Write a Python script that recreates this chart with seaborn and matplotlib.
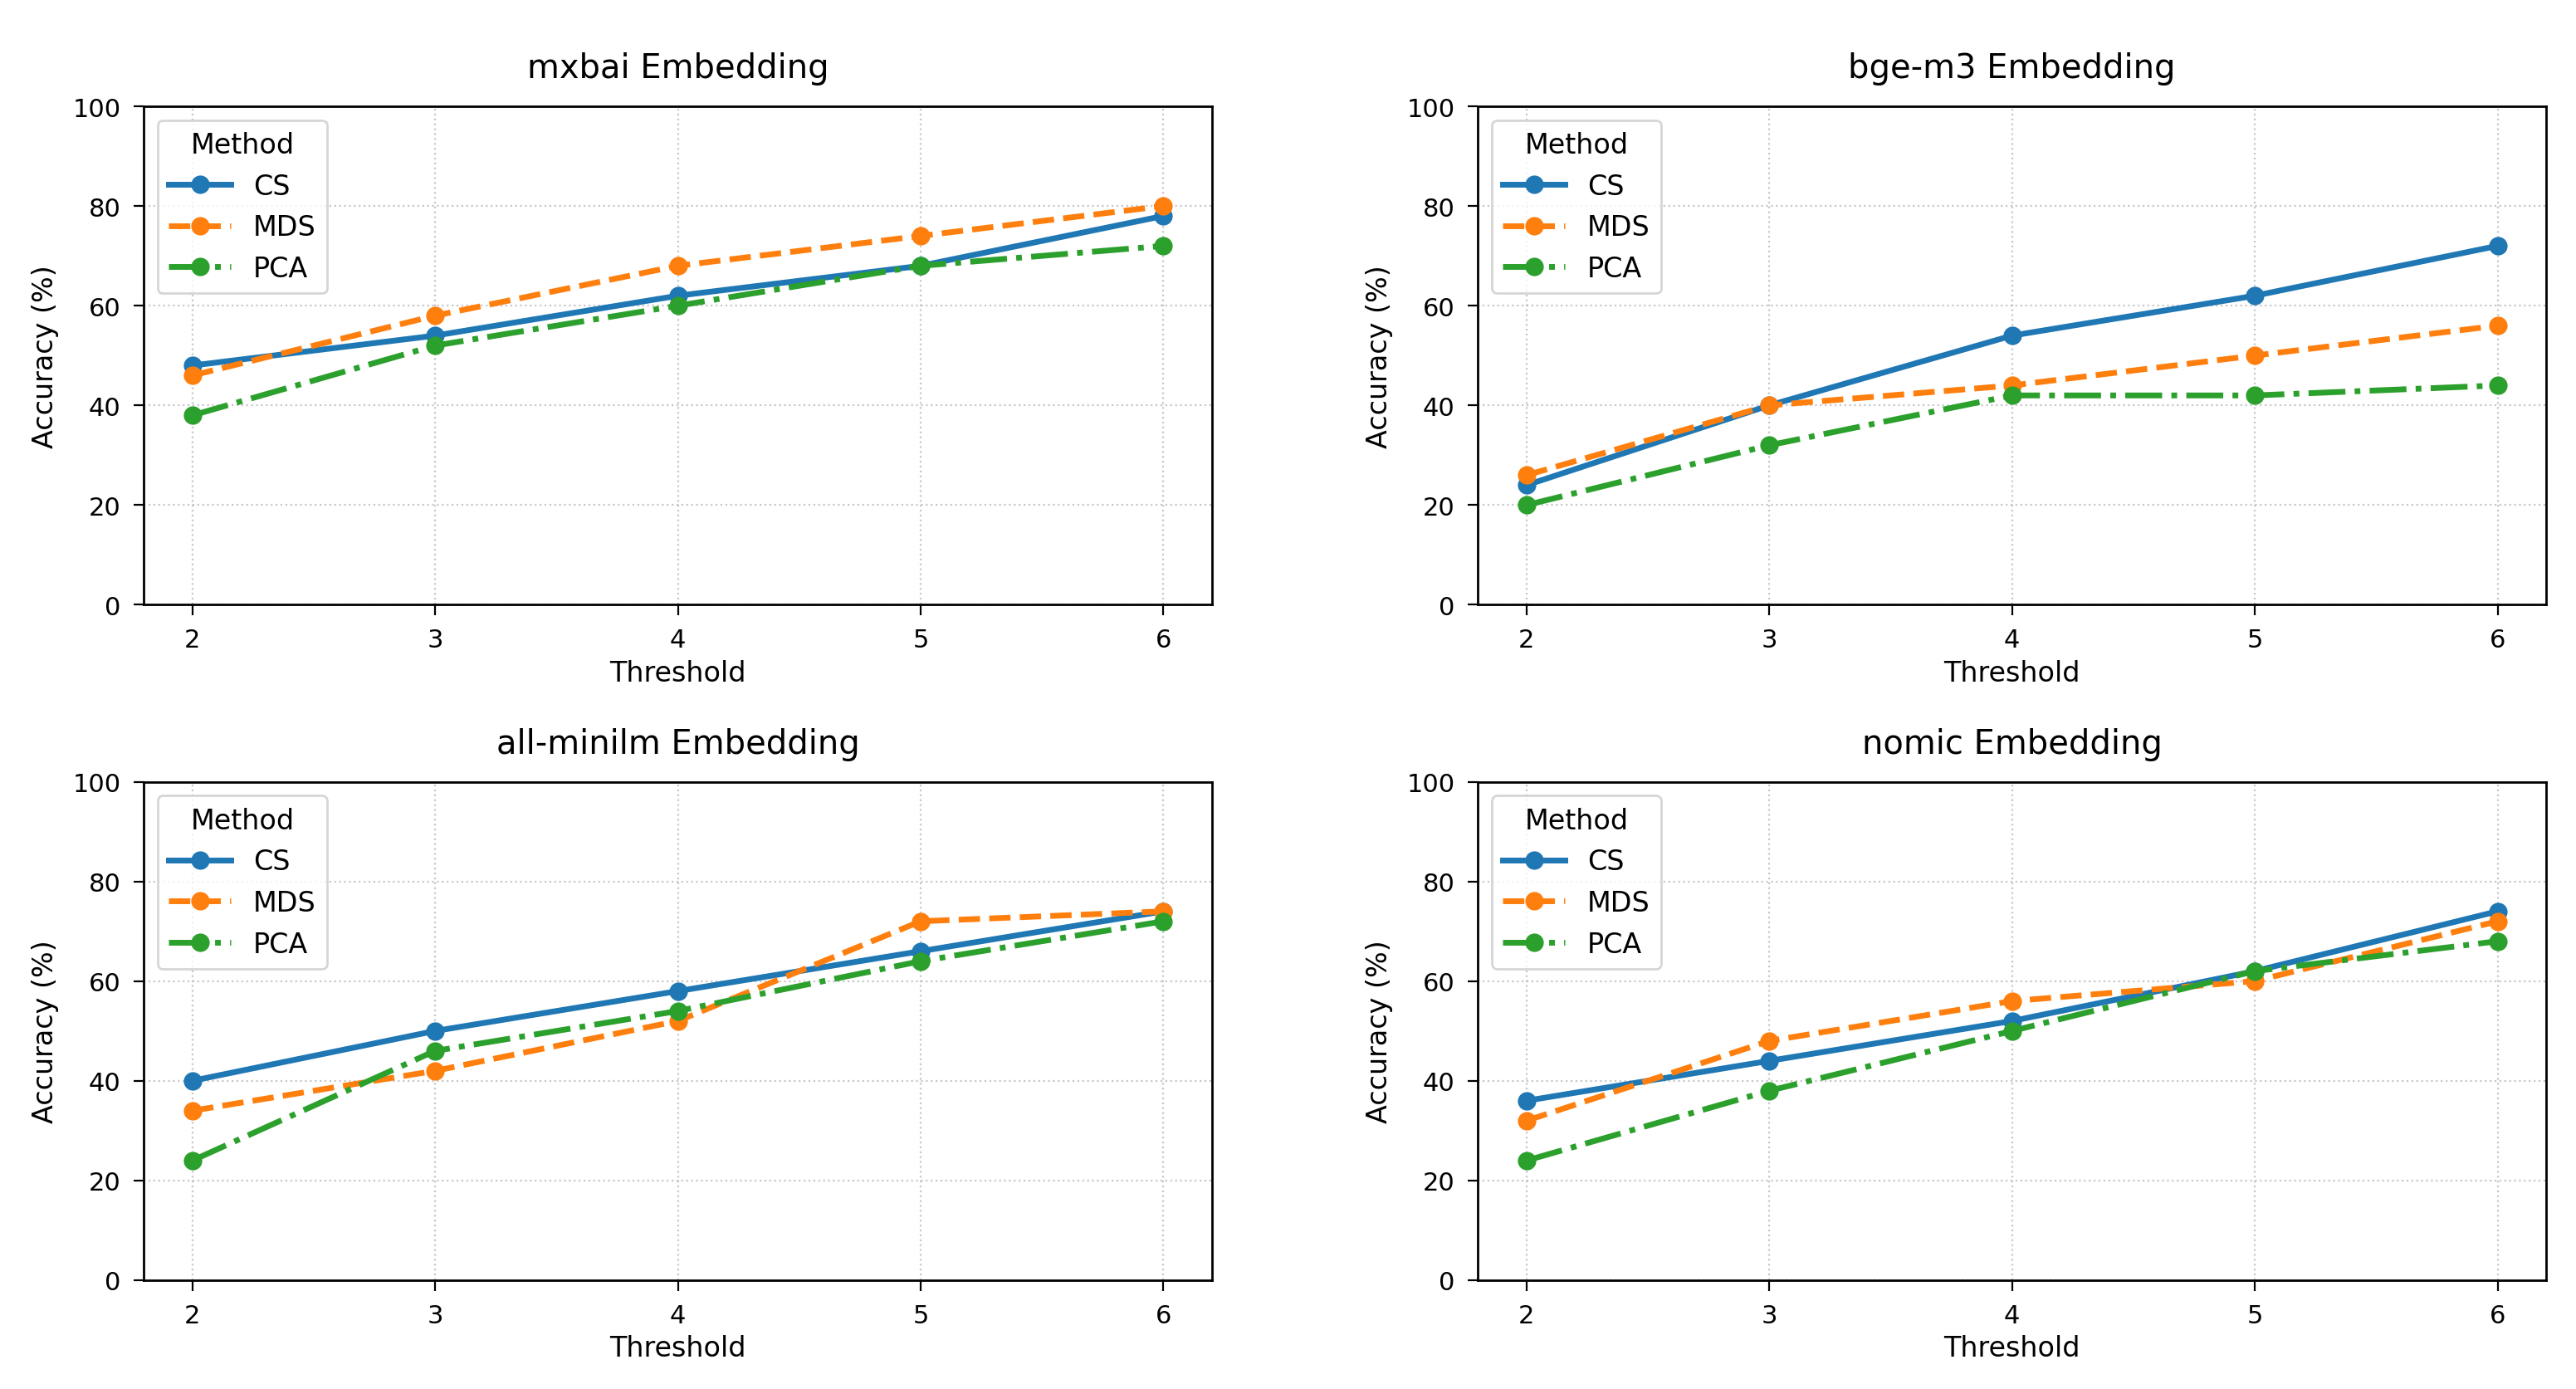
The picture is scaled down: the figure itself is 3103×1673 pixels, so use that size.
import pandas as pd
import matplotlib.pyplot as plt
import seaborn as sns

THRESHOLDS = [2, 3, 4, 5, 6]
METHODS = ['CS', 'MDS', 'PCA']

MXBAI_CS = [48, 54, 62, 68, 78]
MXBAI_MDS = [46, 58, 68, 74, 80]
MXBAI_PCA = [38, 52, 60, 68, 72]

BGE_CS = [24, 40, 54, 62, 72]
BGE_MDS = [26, 40, 44, 50, 56]
BGE_PCA = [20, 32, 42, 42, 44]

MINILM_CS = [40, 50, 58, 66, 74]
MINILM_MDS = [34, 42, 52, 72, 74]
MINILM_PCA = [24, 46, 54, 64, 72]

NOMIC_CS = [36, 44, 52, 62, 74]
NOMIC_MDS = [32, 48, 56, 60, 72]
NOMIC_PCA = [24, 38, 50, 62, 68]

PANELS = [
    ('mxbai Embedding', [MXBAI_CS, MXBAI_MDS, MXBAI_PCA]),
    ('bge-m3 Embedding', [BGE_CS, BGE_MDS, BGE_PCA]),
    ('all-minilm Embedding', [MINILM_CS, MINILM_MDS, MINILM_PCA]),
    ('nomic Embedding', [NOMIC_CS, NOMIC_MDS, NOMIC_PCA]),
]

OUTPUT_PNG_FILE = 'out.png'


def build_frame(series):
    rows = []
    for method, values in zip(METHODS, series):
        for t, v in zip(THRESHOLDS, values):
            rows.append({'Threshold': t, 'Accuracy': v, 'Method': method})
    return pd.DataFrame(rows)


def plot_panels(output_png):
    palette = {'CS': '#1f77b4', 'MDS': '#ff7f0e', 'PCA': '#2ca02c'}
    markers = {'CS': 'o', 'MDS': 'o', 'PCA': 'o'}
    dashes = {'CS': '', 'MDS': (3.7, 1.6), 'PCA': (6.4, 1.6, 1.0, 1.6)}

    fig, axes = plt.subplots(2, 2, figsize=(15.515, 8.37), dpi=200)

    for ax, (title, series) in zip(axes.flat, PANELS):
        df = build_frame(series)
        sns.lineplot(data=df, x='Threshold', y='Accuracy', hue='Method', style='Method',
                     palette=palette, markers=markers, dashes=dashes,
                     linewidth=2.5, markersize=8, markeredgewidth=0, ax=ax)
        ax.set_title(title, fontsize=14.4, pad=12.5)
        ax.set_xlabel('Threshold', fontsize=12, labelpad=3)
        ax.set_ylabel('Accuracy (%)', fontsize=12, labelpad=6)
        ax.set_ylim(0, 100)
        ax.set_yticks([0, 20, 40, 60, 80, 100])
        ax.set_xticks(THRESHOLDS)
        ax.tick_params(axis='both', labelsize=11, length=4.5, pad=5.5)
        for side in ax.spines.values():
            side.set_linewidth(1.0)
        ax.grid(True, linestyle=':', alpha=0.7)
        ax.legend(title='Method', loc='upper left', fontsize=12, title_fontsize=12,
                  handlelength=2.25)

    fig.subplots_adjust(left=0.0558, right=0.9884, top=0.9229, bottom=0.0783,
                        wspace=0.249, hspace=0.355)
    fig.savefig(output_png, dpi=200)


if __name__ == '__main__':
    plot_panels(OUTPUT_PNG_FILE)
